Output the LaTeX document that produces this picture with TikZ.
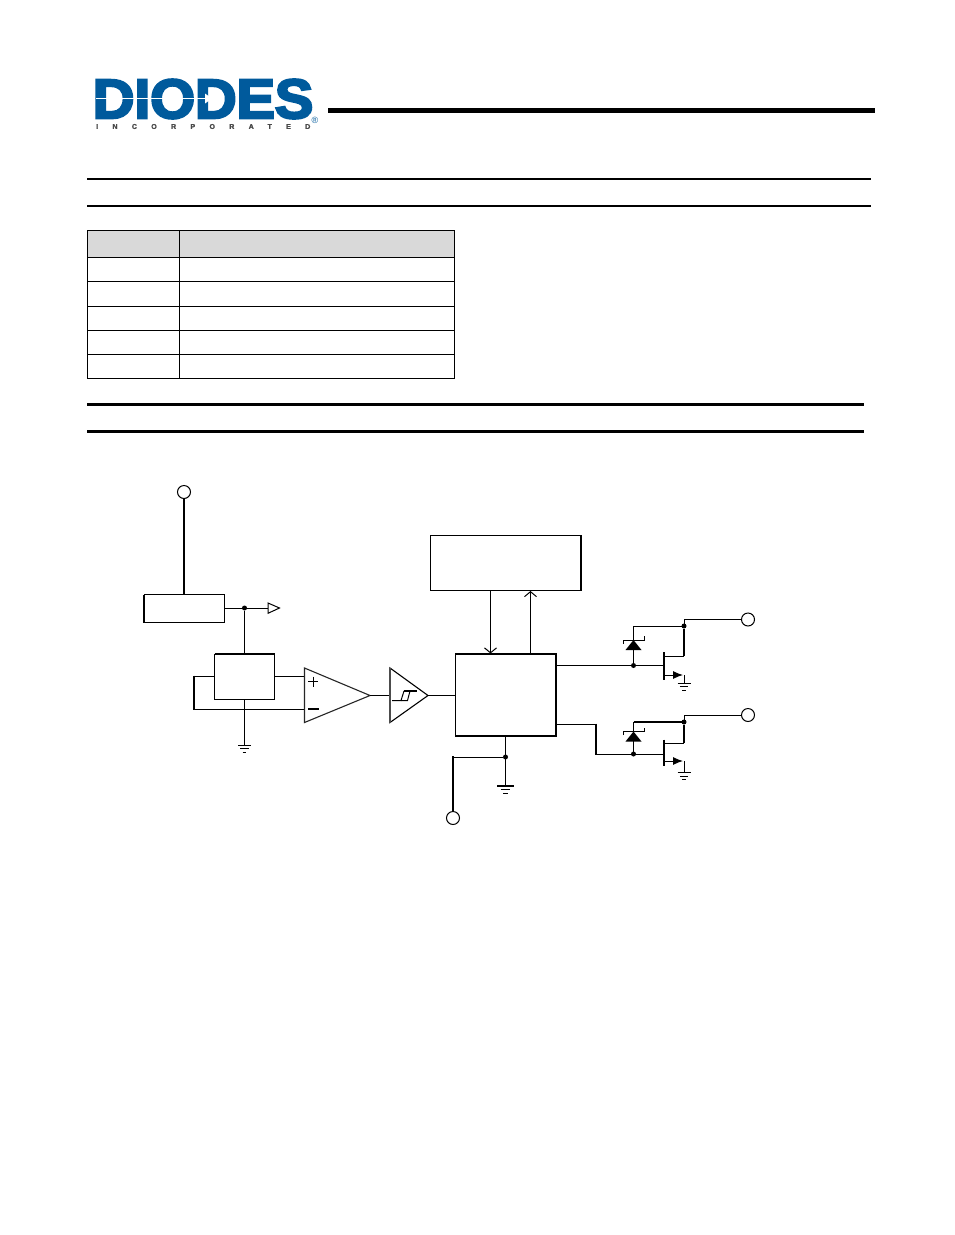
\documentclass[tikz,border=0pt]{standalone}
\usepackage{fontspec}
\setmainfont{Liberation Sans}
\usetikzlibrary{arrows.meta,calc}
\definecolor{logoblue}{HTML}{005A9C}
\definecolor{logogray}{HTML}{4A4A4A}
\definecolor{headgray}{HTML}{D9D9D9}
\tikzset{
  wire/.style={line width=1pt,black},
  heavy/.style={line width=2.2pt,black},
  rulethin/.style={line width=1.7pt,black},
  rulethick/.style={line width=2.8pt,black},
  cellrule/.style={line width=0.9pt,black},
  blockbox/.style={draw=black,line width=1pt,fill=white,inner sep=0pt,outer sep=0pt},
  pinring/.style={circle,draw=black,line width=1pt,fill=white,minimum width=13pt,minimum height=12pt,inner sep=0pt,outer sep=0pt},
  junction/.style={circle,fill=black,minimum size=5pt,inner sep=0pt,outer sep=0pt},
  openhead/.style={-{Straight Barb[length=5pt,width=12pt,line width=1pt]}},
  fethead/.style={-{Latex[length=10pt,width=8pt]}},
}
\newcommand{\gndsym}[3]{% x, y, half-width
  \draw[line width=1pt] (#1-#3,#2) -- (#1+#3,#2);
  \draw[line width=1pt] (#1-#3*0.62,#2+3.6) -- (#1+#3*0.62,#2+3.6);
  \draw[line width=1pt] (#1-#3*0.3,#2+7) -- (#1+#3*0.3,#2+7);
}
\newcommand{\zenersym}[3]{% x, apex y, name
  \fill (#1-8,#2+10) -- (#1+8,#2+10) -- (#1,#2) -- cycle;
  \draw[line width=1pt] (#1-10.5,#2+3.5) -- (#1-10.5,#2) -- (#1+10.5,#2) -- (#1+10.5,#2-4);
}
\begin{document}
\begin{tikzpicture}[x=1pt,y=-1pt]
\useasboundingbox (0,0) rectangle (954,1235);
\fill[white] (0,0) rectangle (954,1235);

% logo
\node[anchor=west,inner sep=0pt,text=logoblue,xscale=1.0,yscale=0.96] (logotext) at (92.5,99)
  {\fontsize{58}{58}\selectfont\addfontfeature{FakeBold=4,LetterSpace=-0.6}\bfseries DIODES};
\fill[white] (96,97.7) rectangle (208,99.3);
\fill[white] (205,93.5) -- (212,98.5) -- (205,103.5) -- cycle;
\node[anchor=west,inner sep=0pt,text=logogray] (logosub) at (96,126.5)
  {\fontsize{7}{7}\selectfont\addfontfeature{FakeBold=2,LetterSpace=205}\bfseries INCORPORATED};
\node[inner sep=0pt,text=logoblue] (logoreg) at (315,120.5) {\fontsize{9}{9}\selectfont ®};

% header and section rules
\coordinate (topL) at (328,110); \coordinate (topR) at (875,110);
\draw[line width=5pt] (topL) -- (topR);
\coordinate (s1aL) at (87,179); \coordinate (s1aR) at (871,179);
\coordinate (s1bL) at (87,206); \coordinate (s1bR) at (871,206);
\coordinate (s2aL) at (87,404.7); \coordinate (s2aR) at (864,404.7);
\coordinate (s2bL) at (87,431.7); \coordinate (s2bR) at (864,431.7);
\draw[rulethin] (s1aL) -- (s1aR);
\draw[rulethin] (s1bL) -- (s1bR);
\draw[rulethick] (s2aL) -- (s2aR);
\draw[rulethick] (s2bL) -- (s2bR);

% table
\fill[headgray] (87.5,230.5) rectangle (454.5,258);
\draw[cellrule] (87.5,230.5) rectangle (454.5,378.5);
\draw[cellrule] (179.5,230.5) -- (179.5,378.5);
\foreach \yy in {257.5,281,306,330.5,354.5}
  \draw[cellrule] (87.5,\yy) -- (454.5,\yy);

% circuit blocks
\node[pinring] (vin) at (184,492) {};
\node[blockbox,anchor=north west,minimum width=80pt,minimum height=28pt] (reg) at (144,594.5) {};
\node[blockbox,anchor=north west,minimum width=60pt,minimum height=45pt] (hall) at (214.5,654) {};
\node[blockbox,anchor=north west,minimum width=150.5pt,minimum height=55pt] (prot) at (430.5,535.5) {};
\node[blockbox,line width=1.6pt,anchor=north west,minimum width=100.5pt,minimum height=82pt] (logic) at (455.5,654) {};
\draw[heavy,line width=1.8pt] (prot.north east) -- (prot.south east);
\draw[heavy,line width=2pt] (hall.north west) -- (hall.north east);
\draw[heavy,line width=1.8pt] (reg.north west) -- (reg.south west);

% regulator output
\draw[heavy] (vin) -- (reg.north);
\coordinate (regout) at (224,608);
\coordinate (vddtri) at (268,608);
\node[junction] (j1) at (244.5,608) {};
\draw[wire] (regout) -- (vddtri);
\draw[line width=1pt,fill=white] (268,603) -- (279.5,608) -- (268,613.3) -- cycle;
\draw[wire] (j1) -- (hall.north);

% hall outputs and comparator
\coordinate (hp) at (304.5,676.5);
\coordinate (hm) at (304.5,709);
\coordinate (cout) at (370,695.5);
\coordinate (sin) at (390,695.5);
\coordinate (sout) at (428,695.5);
\draw[wire] (274.5,676.5) -- (hp);
\draw[wire] (214.5,676.5) -- (194,676.5);
\draw[wire] (194,709) -- (hm);
\draw[heavy,line width=1.8pt] (194,675.6) -- (194,709.9);
\draw[wire] (hall.south) -- (244.5,745);
\gndsym{244.5}{745}{6.5}
\draw[line width=1.1pt,draw=black!85] (304.5,668) -- (370,695.5) -- (304.5,722.5) -- cycle;
\draw[line width=1pt] (308,681.5) -- (318,681.5) (313,676.5) -- (313,686.5);
\draw[line width=2pt] (308,709) -- (319,709);
\draw[wire] (cout) -- (sin);
\draw[line width=1.1pt] (390,668) -- (428,695.5) -- (390,722.5) -- cycle;
\draw[line width=1.5pt,draw=black!70] (390,668) -- (390,722.5);
\draw[line width=1pt] (392,700.5) -- (401,700.5) -- (404,691);
\draw[line width=1.8pt] (404,691) -- (417,691);
\draw[line width=1pt] (401,700.5) -- (407.5,700.5) -- (410,691);
\draw[wire] (sout) -- (logic.west |- sout);

% logic links
\draw[wire,openhead] (490.5,590.5) -- (490.5,653.5);
\draw[wire,openhead] (530.5,654) -- (530.5,591);

% ground / GND pin
\coordinate (g1) at (505.5,786);
\node[junction] (j2) at (505.5,757) {};
\node[pinring] (gndpin) at (453,818) {};
\draw[wire] (505.5,736) -- (g1);
\draw[line width=1.5pt] (497,786) -- (514,786);
\gndsym{505.5}{786}{8}
\draw[wire] (j2) -- (453,757);
\draw[heavy] (453,756.4) -- (gndpin);

% upper output
\node[junction] (j3) at (633.5,665.5) {};
\node[junction] (j4) at (684,626) {};
\node[pinring] (out1) at (748,619.5) {};
\draw[wire] (556,665.5) -- (664,665.5);
\draw[wire] (j3) -- (633.5,626) -- (j4);
\zenersym{633.5}{640}{z1}
\draw[heavy] (j4) -- (684,656);
\draw[wire] (684,656) -- (664,656);
\draw[wire] (684,626) -- (684,619.5) -- (out1);
\draw[heavy] (664,652) -- (664,679.5);
\draw[wire,fethead] (664,675) -- (683,675);
\draw[wire] (684,675) -- (684,683);
\gndsym{684}{683}{6.5}

% lower output
\node[junction] (j5) at (633.5,754) {};
\node[junction] (j6) at (684,722) {};
\node[pinring] (out2) at (748,715) {};
\draw[wire] (556,724) -- (596,724);
\draw[heavy,line width=1.6pt] (596,723.5) -- (596,754.5);
\draw[wire] (596,754) -- (664,754);
\draw[wire] (j5) -- (633.5,722);
\draw[heavy,line width=1.6pt] (633.5,722) -- (j6);
\zenersym{633.5}{731.5}{z2}
\draw[heavy] (j6) -- (684,743);
\draw[wire] (684,743) -- (664,743);
\draw[wire] (684,722) -- (684,715) -- (out2);
\draw[heavy] (664,739.5) -- (664,766);
\draw[wire,fethead] (664,761) -- (683,761);
\draw[wire] (684,761) -- (684,772.5);
\gndsym{684}{772.5}{6.5}
\end{tikzpicture}
\end{document}
